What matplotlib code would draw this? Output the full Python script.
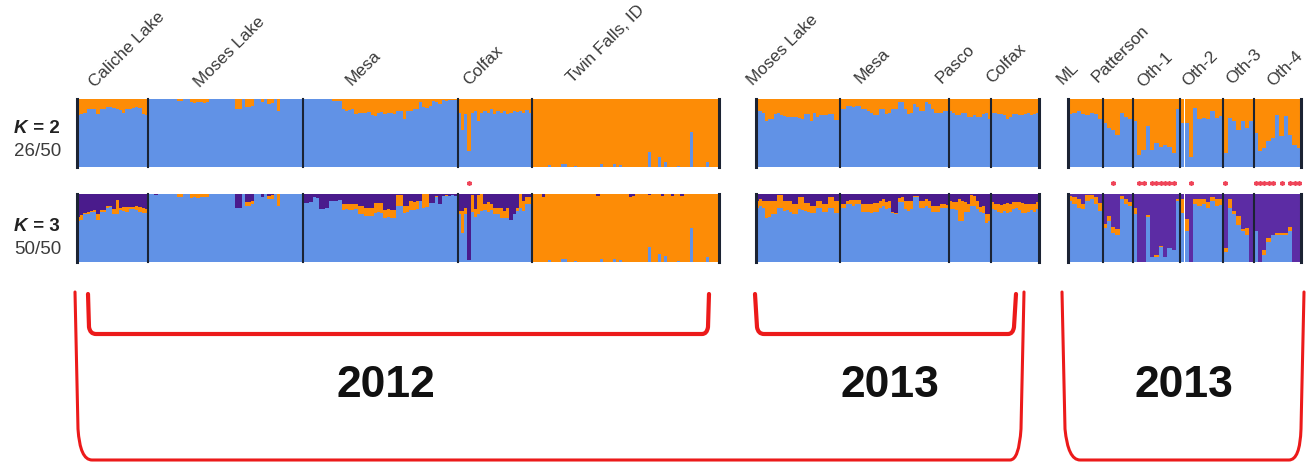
import matplotlib
matplotlib.use("Agg")
import matplotlib.pyplot as plt
from matplotlib.path import Path
from matplotlib.patches import PathPatch
import numpy as np

W, H = 1310, 464

BLUE = "#6192e6"
ORANGE = "#fd8c06"
PURPLE = "#4a1b8c"
PURPLE_C = "#5c2ca4"
LINE = "#1b2333"
RED = "#ec1a1a"
STAR = "#ef4458"

# ------------------------------------------------------------------ data
pops_2012 = ["Caliche Lake", "Moses Lake", "Mesa", "Colfax", "Twin Falls, ID"]
pops_2013 = ["Moses Lake", "Mesa", "Pasco", "Colfax"]
pops_oth = ["ML", "Patterson", "Oth-1", "Oth-2", "Oth-3", "Oth-4"]
years = ["2012", "2013", "2013"]
row_labels = ["K = 2", "K = 3"]
row_scores = ["26/50", "50/50"]

# K=2 : blue membership (orange = rest)
# K=3 : blue and orange membership (purple = rest)
cal_k2_blue = [.76, .78, .79, .85, .86, .85, .78, .85, .86, .88, .88, .87, .85, .84, .80, .85, .86, .87, .88, .87, .78, .76]
cal_k3_blue = [.60, .62, .70, .71, .73, .74, .62, .74, .74, .80, .81, .71, .71, .76, .75, .74, .78, .78, .76, .74, .72, .72]
cal_k3_orange = [.06, .07, .02, .02, .02, .02, .09, .02, .03, .02, .02, .07, .20, .03, .06, .07, .03, .03, .07, .07, .07, .06]

mos12_k2_blue = [1, 1, 1, 1, 1, 1, 1, 1, 1, .97, .97, 1, 1, .95, .94, .95, .96, .94, .95, 1, 1, 1, 1, 1, 1, 1, 1,
                 .85, .86, 1, .88, .88, .90, 1, 1, .96, 1, .93, .94, 1, .83, 1, 1, 1, 1, 1, 1, 1]
mos12_k3_blue = [1, 1, .98, 1, 1, 1, 1, 1, 1, .96, .96, 1, 1, .94, .95, .94, .96, .95, .96, 1, 1, 1, 1, 1, 1, 1, 1,
                 .80, .80, 1, .82, .83, .85, 1, 1, .95, 1, .92, .93, 1, .82, 1, 1, 1, 1, 1, 1, 1]
mos12_k3_orange = [0, 0, 0, 0, 0, 0, 0, 0, 0, .04, .04, 0, 0, .06, .05, .06, .04, .05, .04, 0, 0, 0, 0, 0, 0, 0, 0,
                   0, 0, 0, .06, .05, .05, 0, 0, 0, 0, .05, .05, 0, .18, 0, 0, 0, 0, 0, 0, 0]

mesa12_k2_blue = [1, 1, 1, 1, 1, 1, 1, 1, 1, .97, .97, .97, .85, .83, .84, .85, .78, .79, .80, .80, .81, .76, .75, .80,
                  .81, .78, .80, .79, .78, .82, .83, .71, .83, .82, .85, .86, .96, .88, .87, .90, .97, .96, .92, .98,
                  .97, .98, .98, .99]
mesa12_k3_blue = [.87, .87, .88, .95, .94, .78, .78, .80, .90, .90, .90, .91, .77, .78, .76, .77, .78, .70, .70, .68,
                  .67, .68, .72, .73, .72, .65, .66, .64, .65, .82, .83, .72, .73, .77, .76, .78, .90, .80, .81, .87,
                  .87, .95, .85, .97, .97, .97, .98, .97]
mesa12_k3_orange = [0, 0, 0, 0, 0, 0, 0, 0, 0, 0, 0, 0, .08, .07, .09, .08, .07, .12, .12, .12, .13, .12, .15, .14,
                    .15, .12, .12, .13, .12, .17, .16, .10, .10, .12, .12, .11, 0, .20, .19, 0, 0, .02, 0, 0, .01,
                    0, 0, 0]

col12_k2_blue = [.80, .54, .78, .24, .80, .82, .68, .80, .83, .80, .85, .78, .82, .80, .83, .78, .80, .82, .81, .83,
                 .80, .84, .80]
col12_k3_blue = [.70, .43, .70, .03, .73, .66, .70, .75, .77, .73, .77, .70, .70, .65, .65, .65, .62, .70, .75, .80,
                 .75, .85, .85]
col12_k3_orange = [.05, .32, .10, 0, .25, .12, .28, .25, .08, .15, .08, .10, .10, .15, .10, .15, 0, 0, .05, .20,
                   .15, .10, .10]

twin_k2_blue = [0, 0, 0, 0, 0, .03, 0, 0, 0, .04, .04, 0, 0, .02, 0, 0, 0, 0, 0, 0, 0, .05, 0, 0, 0, .05, 0, .03,
                0, 0, 0, 0, 0, 0, 0, 0, .22, 0, 0, .14, 0, .08, 0, 0, 0, .02, 0, 0, 0, .52, 0, 0, 0, 0, .08, 0, 0, 0]
twin_k3_blue = [0, 0, 0, 0, 0, .03, 0, 0, 0, .04, .04, 0, 0, .02, 0, 0, 0, 0, 0, 0, 0, .05, 0, 0, 0, .05, 0, .03,
                0, 0, 0, 0, 0, 0, 0, 0, .22, 0, 0, .12, 0, .09, 0, 0, 0, .02, 0, 0, 0, .50, 0, 0, 0, 0, .07, 0, 0, 0]
twin_k3_orange = [1, 1, 1, .96, 1, .97, 1, 1, 1, .96, .96, 1, 1, .98, 1, 1, 1, 1, 1, 1, .97, .95, 1, 1, 1, .95, 1,
                  .97, 1, 1, .96, .97, 1, 1, 1, 1, .76, 1, 1, .88, .97, .91, 1, .97, 1, .98, .97, 1, 1, .50, 1, 1,
                  1, 1, .93, 1, 1, 1]

mos13_k2_blue = [.83, .83, .80, .68, .70, .71, .78, .80, .76, .75, .73, .73, .74, .74, .72, .71, .78, .78, .68, .80,
                 .73, .76, .76, .76, .78, .78, .69, .69]
mos13_k3_blue = [.80, .82, .80, .65, .66, .70, .71, .80, .80, .75, .76, .74, .70, .70, .78, .77, .75, .74, .72, .72,
                 .80, .80, .73, .74, .80, .80, .72, .72]
mos13_k3_orange = [.10, .10, .10, .25, .24, .20, .19, .19, .18, .15, .14, .15, .15, .15, .17, .18, .12, .13, .10,
                   .10, .10, .10, .12, .12, .15, .15, .18, .18]

mesa13_k2_blue = [.85, .85, .90, .90, .88, .90, .90, .85, .85, .82, .80, .76, .76, .85, .85, .78, .80, .85, .85, .95,
                  .95, .85, .78, .80, .92, .88, .83, .82, .95, .92, .85, .80, .80, .80, .83, .82]
mesa13_k3_blue = [.80, .80, .85, .85, .83, .85, .86, .73, .73, .74, .72, .73, .73, .80, .82, .78, .80, .72, .70, .88,
                  .88, .78, .75, .78, .95, .95, .80, .80, .82, .80, .74, .73, .74, .80, .80, .80]
mesa13_k3_orange = [.05, .05, .05, .06, .08, .06, .05, .12, .13, .12, .14, .14, .14, .10, .10, .10, .10, .02, .02,
                    .06, .08, .12, .15, .12, .02, .02, .10, .10, .10, .10, .08, .10, .08, .05, .05, .04]

pas_k2_blue = [.83, .80, .76, .76, .80, .80, .73, .73, .76, .74, .73, .78, .80, .71]
pas_k3_blue = [.78, .78, .76, .60, .60, .74, .74, .83, .82, .78, .73, .72, .58, .60]
pas_k3_orange = [.12, .10, .12, .32, .30, .14, .12, .15, .15, .12, .08, .10, .12, .10]

col13_k2_blue = [.80, .80, .78, .78, .76, .71, .73, .78, .78, .76, .76, .78, .80, .76, .78, .80]
col13_k3_blue = [.78, .76, .74, .72, .75, .72, .74, .78, .80, .76, .72, .72, .74, .76, .74, .78]
col13_k3_orange = [.10, .10, .12, .12, .10, .15, .12, .10, .08, .12, .15, .14, .12, .10, .12, .10]

ml_k2_blue = [.775, .80, .825, .775, .765, .80, .775, .70]
ml_k3_blue = [.90, .85, .80, .78, .90, .92, .86, .75]
ml_k3_orange = [.07, .10, .12, .08, .08, .06, .10, .12]

pat_k2_blue = [.65, .57, .55, .47, .80, .73, .70]
pat_k3_blue = [.50, .60, .43, .40, .92, .86, .82]
pat_k3_orange = [.06, .08, .08, .08, .05, .06, .06]

oth1_k2_blue = [.675, .175, .25, .60, .25, .35, .30, .325, .30, .20, .85]
oth1_k3_blue = [.70, 0, 0, .66, .07, .07, .22, .07, .20, .17, .90]
oth1_k3_orange = [.10, 0, 0, .03, 0, .04, .02, 0, 0, 0, .03]

oth2_k2_blue = [.65, .64, .15, .875, .70, .725, .70, .825, .725, .75]
oth2_k3_blue = [.72, .45, 0, .85, .82, .86, .80, .90, .82, .84]
oth2_k3_orange = [.20, .18, 0, .08, .10, .07, .08, .06, .10, .08]

oth3_k2_blue = [.20, .725, .675, .55, .675, .575, .675]
oth3_k3_blue = [.15, .80, .70, .55, .46, .40, 0]
oth3_k3_orange = [.05, .12, .05, .12, .03, .10, 0]

oth4_k2_blue = [.50, .23, .28, .38, .43, .77, .45, .75, .47, .32, .28]
oth4_k3_blue = [.45, 0, .10, .30, .40, .40, .40, .40, .46, 0, 0]
oth4_k3_orange = [0, 0, .08, .05, 0, .02, .02, .02, .06, 0, 0]

# individuals flagged with an asterisk (index within population)
col12_marked = [3]
pat_marked = [2]
oth1_marked = [1, 2, 4, 5, 6, 7, 8, 9]
oth2_marked = [2]
oth3_marked = [0]
oth4_marked = [0, 1, 2, 3, 4, 6, 8, 9, 10]

# ------------------------------------------------------------------ figure
plt.rcParams["font.family"] = ["Liberation Sans", "DejaVu Sans"]
fig = plt.figure(figsize=(W / 100, H / 100), dpi=100)


def px_axes(x0, x1, y0, y1):
    return fig.add_axes([x0 / W, 1 - y1 / H, (x1 - x0) / W, (y1 - y0) / H])


def draw_row(ax, blues, oranges, purple):
    blue = np.concatenate([np.asarray(b, float) for b in blues])
    n = len(blue)
    x = np.arange(n) + 0.5
    kw = dict(width=1.0, linewidth=0, antialiased=False, align="center")
    ax.bar(x, blue, color=BLUE, **kw)
    if oranges is None:
        ax.bar(x, 1 - blue, bottom=blue, color=ORANGE, **kw)
    else:
        orange = np.concatenate([np.asarray(o, float) for o in oranges])
        rest = np.clip(1 - blue - orange, 0, None)
        ax.bar(x, orange, bottom=blue, color=ORANGE, **kw)
        ax.bar(x, rest, bottom=blue + orange, color=purple, **kw)
    bounds = np.cumsum([0] + [len(b) for b in blues])
    for i, b in enumerate(bounds):
        lw = 2.2 if i in (0, len(bounds) - 1) else 1.5
        ax.axvline(b, color=LINE, lw=lw, clip_on=False, zorder=3)
    ax.set_xlim(0, n)
    ax.set_ylim(0, 1)
    ax.axis("off")
    return bounds


def mark(ax, bounds, marked_lists, y=1.155):
    for start, marked in zip(bounds[:-1], marked_lists):
        if not marked:
            continue
        xs = start + np.asarray(marked) + 0.5
        ax.plot(xs, np.full(len(xs), y), linestyle="none", marker=(6, 2, 0),
                markersize=3.4, mew=1.1, color=STAR, clip_on=False)


panels = [
    (77, 719,
     [cal_k2_blue, mos12_k2_blue, mesa12_k2_blue, col12_k2_blue, twin_k2_blue],
     [cal_k3_blue, mos12_k3_blue, mesa12_k3_blue, col12_k3_blue, twin_k3_blue],
     [cal_k3_orange, mos12_k3_orange, mesa12_k3_orange, col12_k3_orange, twin_k3_orange],
     [[], [], [], col12_marked, []], PURPLE),
    (756, 1039,
     [mos13_k2_blue, mesa13_k2_blue, pas_k2_blue, col13_k2_blue],
     [mos13_k3_blue, mesa13_k3_blue, pas_k3_blue, col13_k3_blue],
     [mos13_k3_orange, mesa13_k3_orange, pas_k3_orange, col13_k3_orange],
     [[], [], [], []], PURPLE),
    (1068, 1301,
     [ml_k2_blue, pat_k2_blue, oth1_k2_blue, oth2_k2_blue, oth3_k2_blue, oth4_k2_blue],
     [ml_k3_blue, pat_k3_blue, oth1_k3_blue, oth2_k3_blue, oth3_k3_blue, oth4_k3_blue],
     [ml_k3_orange, pat_k3_orange, oth1_k3_orange, oth2_k3_orange, oth3_k3_orange, oth4_k3_orange],
     [[], pat_marked, oth1_marked, oth2_marked, oth3_marked, oth4_marked], PURPLE_C),
]

for x0, x1, k2b, k3b, k3o, marked, pcol in panels:
    ax2 = px_axes(x0, x1, 100, 168)
    draw_row(ax2, k2b, None, pcol)
    ax3 = px_axes(x0, x1, 195, 263)
    b3 = draw_row(ax3, k3b, k3o, pcol)
    mark(ax3, b3, marked)

# population labels (baseline-left anchor, pixels)
label_pos = [
    [(95, 88), (200, 88), (352, 86), (469, 86), (573, 84)],
    [(753, 86), (861, 84), (942, 84), (992, 84)],
    [(1063, 85), (1098, 83), (1143, 88), (1188, 87), (1232, 85), (1273, 87)],
]
for positions, names in zip(label_pos, [pops_2012, pops_2013, pops_oth]):
    for (px, py), name in zip(positions, names):
        fig.text(px / W, 1 - py / H, name, rotation=45, rotation_mode="anchor",
                 ha="left", va="baseline", fontsize=12.3, color="#3a3a3a")

# row labels
for (ky, sy), lab, score in zip([(129, 152), (227, 250)], row_labels, row_scores):
    kt = fig.text(14 / W, 1 - ky / H, lab[0], fontsize=13.5, fontweight="bold",
                  fontstyle="italic", color="#222222", ha="left", va="center")
    plt.annotate(lab[1:], xy=(1, 0.5), xycoords=kt, fontsize=13.5, fontweight="bold",
                 color="#222222", ha="left", va="center", annotation_clip=False)
    fig.text(14 / W, 1 - sy / H, score, fontsize=13.5, color="#3c3c3c", ha="left", va="center")

# brackets and year labels
ov = fig.add_axes([0, 0, 1, 1], facecolor="none")
ov.set_xlim(0, W)
ov.set_ylim(H, 0)
ov.axis("off")


def bracket(pts, lw):
    codes = [Path.MOVETO, Path.LINETO, Path.CURVE3, Path.CURVE3, Path.LINETO,
             Path.CURVE3, Path.CURVE3, Path.LINETO]
    ov.add_patch(PathPatch(Path(pts, codes), fill=False, edgecolor=RED, lw=lw,
                           capstyle="round", joinstyle="round"))


bracket([(75, 293), (78, 430), (80, 461), (92, 461), (1010, 461), (1019, 461), (1021, 430), (1024, 293)], 2.2)
bracket([(88, 295), (89, 328), (90, 335), (96, 335), (702, 335), (707, 335), (708, 328), (709, 295)], 3.0)
bracket([(755, 295), (757, 328), (758, 335), (764, 335), (1008, 335), (1013, 335), (1014, 328), (1016, 295)], 3.0)
bracket([(1062, 293), (1065, 430), (1068, 461), (1080, 461), (1289, 461), (1300, 461), (1301, 430), (1304, 293)], 2.2)

for (cx, cy), yr in zip([(386, 386), (890, 386), (1184, 386)], years):
    ov.text(cx, cy, yr, fontsize=32, fontweight="bold", ha="center", va="center",
            family=["Liberation Sans Narrow", "Liberation Sans", "DejaVu Sans"], color="#111111")

fig.savefig("out.png", dpi=100)
